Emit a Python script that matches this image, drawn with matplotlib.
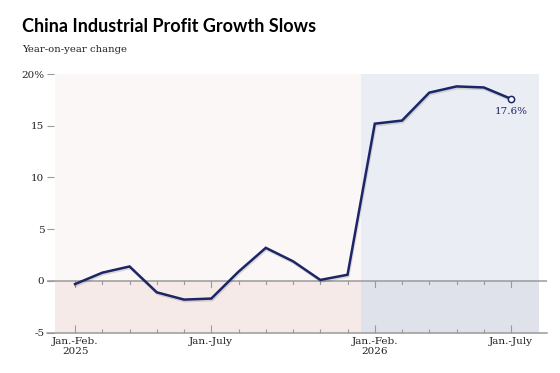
import matplotlib.pyplot as plt
import matplotlib.patheffects as pe
import numpy as np

# year-on-year change in industrial profits, cumulative (%)
periods_2025 = ["Jan.-Feb.", "Mar.", "Apr.", "May", "June", "July",
                "Aug.", "Sept.", "Oct.", "Nov.", "Dec."]
periods_2026 = ["Jan.-Feb.", "Mar.", "Apr.", "May", "June", "July"]
values_2025 = [-0.3, 0.8, 1.4, -1.1, -1.8, -1.7, 0.9, 3.2, 1.9, 0.1, 0.6]
values_2026 = [15.2, 15.5, 18.2, 18.8, 18.7, 17.6]

tick_idx = [0, 5, 11, 16]
tick_labels = ["Jan.-Feb.\n2025", "Jan.-July", "Jan.-Feb.\n2026", "Jan.-July"]
y_ticks = [-5, 0, 5, 10, 15, 20]
y_labels = ["-5", "0", "5", "10", "15", "20%"]

values = values_2025 + values_2026
x = np.arange(len(values))

navy = "#1c2565"
grey = "#9a9a9a"
serif = "DejaVu Serif"

fig = plt.figure(figsize=(5.6, 3.73), dpi=100)
ax = fig.add_axes([47 / 560, 40.3 / 373, 500 / 560, 258.7 / 373])
ax.set_xlim(-1.03, 17.32)
ax.set_ylim(-5, 20)

# shaded backgrounds for each year
split = len(values_2025) - 0.5
end = len(values) - 1 + 1.03
ax.fill_between([-0.75, split], 0, 20, color="#fcf7f7", lw=0, zorder=0)
ax.fill_between([-0.75, split], -5, 0, color="#f6eae8", lw=0, zorder=0)
ax.fill_between([split, end], 0, 20, color="#ebedf4", lw=0, zorder=0)
ax.fill_between([split, end], -5, 0, color="#dfe1eb", lw=0, zorder=0)

ax.axhline(0, color=grey, lw=1.1, zorder=1)
for s in ["top", "right", "left"]:
    ax.spines[s].set_visible(False)
ax.spines["bottom"].set_color(grey)
ax.spines["bottom"].set_linewidth(1.1)

# ticks along the zero line
for i in x:
    ln = 0.55 if i in tick_idx else 0.3
    ax.plot([i, i], [0, -ln], color=grey, lw=0.8, zorder=1)

ax.plot(x, values, color=navy, lw=1.8, zorder=3, solid_joinstyle="miter",
        path_effects=[pe.SimpleLineShadow(offset=(0.6, -1.2), alpha=0.12),
                      pe.Normal()])
ax.plot(x[-1], values[-1], "o", ms=4.5, mfc="white", mec=navy, mew=1.1, zorder=4)
ax.text(x[-1], values[-1] - 0.75, f"{values[-1]}%", ha="center", va="top",
        fontsize=7.5, color=navy, family=serif)

ax.set_xticks(x, minor=True)
ax.set_xticks(tick_idx)
ax.set_xticklabels(tick_labels, family=serif, fontsize=7.5, color="#222222",
                   linespacing=1.15)
ax.tick_params(axis="x", which="major", direction="in", length=6, width=0.8,
               color=grey, pad=3)
ax.tick_params(axis="x", which="minor", direction="in", length=3, width=0.8,
               color=grey)

ax.set_yticks(y_ticks)
ax.set_yticklabels(y_labels, family=serif, fontsize=7.5, color="#222222")
ax.tick_params(axis="y", direction="in", length=5, width=0.8, color=grey, pad=2)

fig.text(22 / 560, 1 - 26 / 373, "China Industrial Profit Growth Slows",
         family="Lato", weight="bold", fontsize=13, va="center", color="black")
fig.text(22 / 560, 1 - 50 / 373, "Year-on-year change", family=serif,
         fontsize=7.3, va="center", color="#222222")

fig.savefig("out.png", dpi=100)
